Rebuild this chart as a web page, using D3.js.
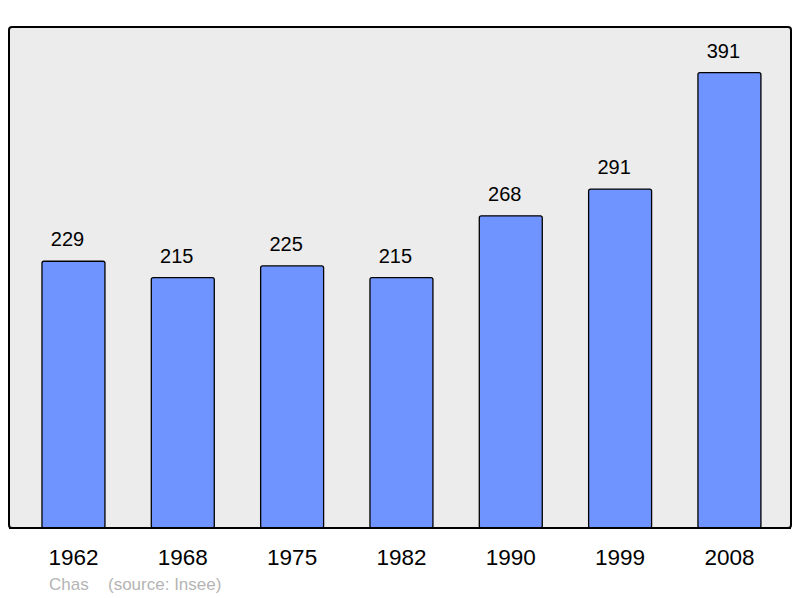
<!DOCTYPE html>
<html><head><meta charset="utf-8">
<script src="https://cdn.jsdelivr.net/npm/d3@7"></script>
<style>html,body{margin:0;padding:0;background:#fff;}svg{display:block;}</style>
</head><body>
<svg id="c" width="800" height="598"></svg>
<script>
const years = ["1962","1968","1975","1982","1990","1999","2008"];
const population = [229,215,225,215,268,291,391];
const commune = "Chas";
const source = "(source: Insee)";

const svg = d3.select("#c");
const frame = {x:9, y:27, w:782, h:501};
const font = "Liberation Sans, Arial, sans-serif";

const x = d3.scaleBand().domain(years).range([18.8, 784.1]).paddingInner(0.424).paddingOuter(0.212);
const y = d3.scaleLinear().domain([0, d3.max(population)*1.1]).range([frame.y+frame.h, frame.y]);

svg.append("rect").attr("x",frame.x).attr("y",frame.y).attr("width",frame.w).attr("height",frame.h)
  .attr("rx",3).attr("fill","#ececec").attr("stroke","#000").attr("stroke-width",2);

const data = years.map((yr,i)=>({yr, v:population[i]}));

svg.selectAll("rect.bar").data(data).enter().append("rect").attr("class","bar")
  .attr("x",d=>x(d.yr)).attr("y",d=>y(d.v)).attr("width",x.bandwidth())
  .attr("height",d=>y(0)-y(d.v)).attr("rx",2)
  .attr("fill","#7094ff").attr("stroke","#000").attr("stroke-width",1.3);

svg.append("line").attr("x1",frame.x).attr("x2",frame.x+frame.w).attr("y1",y(0)).attr("y2",y(0))
  .attr("stroke","#000").attr("stroke-width",2);

svg.selectAll("text.val").data(data).enter().append("text").attr("class","val")
  .attr("x",d=>x(d.yr)+x.bandwidth()/2-6).attr("y",d=>y(d.v)-14.8)
  .attr("text-anchor","middle").attr("font-family",font)
  .attr("font-size",20).attr("fill","#000").text(d=>d.v);

const xAxis = d3.axisBottom(x).tickSize(0).tickPadding(0);
const ax = svg.append("g").attr("transform",`translate(0,${y(0)})`).call(xAxis);
ax.select(".domain").remove();
ax.selectAll("text").attr("font-family",font)
  .attr("font-size",22.5).attr("fill","#000").attr("dy",null).attr("y",37);

svg.append("text").attr("x",49).attr("y",590).attr("font-family",font)
  .attr("font-size",17).attr("fill","#b4b4b4").text(commune);
svg.append("text").attr("x",108).attr("y",590).attr("font-family",font)
  .attr("font-size",17).attr("fill","#b4b4b4").text(source);
</script>
</body></html>
